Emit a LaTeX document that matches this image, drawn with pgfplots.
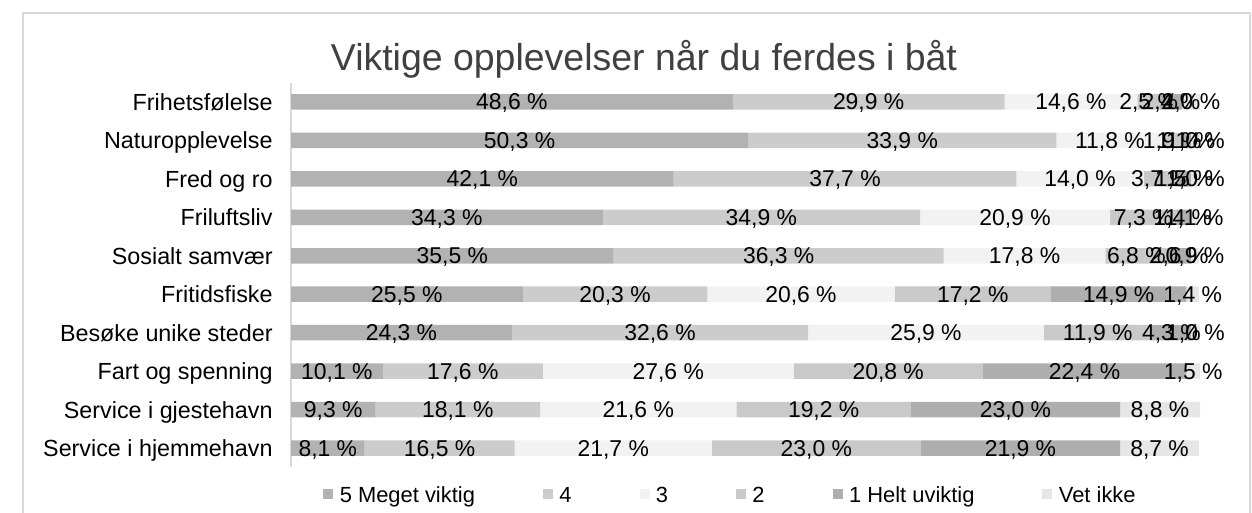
\documentclass[border=0pt]{standalone}
\usepackage{fontspec}
\setmainfont{Liberation Sans}
\usepackage{pgfplots}
\usepackage{pgfplotstable}
\pgfplotsset{compat=1.18}
\definecolor{cfem}{HTML}{B2B2B2}
\definecolor{cfire}{HTML}{CCCCCC}
\definecolor{ctre}{HTML}{F2F2F2}
\definecolor{cto}{HTML}{C9C9C9}
\definecolor{cen}{HTML}{AEAEAE}
\definecolor{cvet}{HTML}{E6E6E6}
\definecolor{cframe}{HTML}{D9D9D9}
\definecolor{ctitle}{HTML}{404040}

% rows from bottom (0) to top (9)
\pgfplotstableread{
row v5 v4 v3 v2 v1 vet
0 8.1 16.5 21.7 23.0 21.9 8.7
1 9.3 18.1 21.6 19.2 23.0 8.8
2 10.1 17.6 27.6 20.8 22.4 1.5
3 24.3 32.6 25.9 11.9 4.3 1.0
4 25.5 20.3 20.6 17.2 14.9 1.4
5 35.5 36.3 17.8 6.8 2.6 0.9
6 34.3 34.9 20.9 7.3 1.4 1.1
7 42.1 37.7 14.0 3.7 1.5 1.0
8 50.3 33.9 11.8 1.9 1.1 1.0
9 48.6 29.9 14.6 2.5 2.4 2.0
}\data

\begin{document}
\begin{tikzpicture}
\path[use as bounding box] (0bp,0bp) rectangle (626bp,256.5bp);
\draw[cframe, line width=0.75bp] (11.5bp,-5bp) rectangle (625bp,250bp);
\node[font=\fontsize{18.8}{22}\selectfont, text=ctitle, anchor=base]
  at (322bp,221bp) {Viktige opplevelser når du ferdes i båt};
\begin{axis}[
    at={(145.5bp,22.8bp)}, anchor=south west,
    scale only axis,
    width=454.5bp, height=192.4bp,
    xbar stacked,
    bar width=7.75bp,
    xmin=0, xmax=100,
    ymin=-0.5, ymax=9.5,
    axis x line=none,
    axis y line*=left,
    y axis line style={draw=cframe, line width=0.75bp},
    ytick={0,...,9},
    yticklabels={Service i hjemmehavn, Service i gjestehavn, Fart og spenning,
      Besøke unike steder, Fritidsfiske, Sosialt samvær, Friluftsliv,
      Fred og ro, Naturopplevelse, Frihetsfølelse},
    major tick length=0pt,
    ytick style={draw=none},
    yticklabel style={font=\fontsize{11.7}{13}\selectfont, anchor=east,
      text height=8.4bp, text depth=0bp, xshift=-5.7bp},
    point meta=rawx,
    nodes near coords={\pgfmathprintnumber[assume math mode=true,fixed,fixed zerofill,precision=1,use comma]{\pgfplotspointmeta}\ \%},
    every node near coord/.append style={anchor=center, yshift=-0.8bp,
      font=\fontsize{11.5}{13}\selectfont, text=black},
    legend columns=6,
    legend image code/.code={\fill[#1,draw=none] (0bp,-1.2bp) rectangle (5bp,3.8bp); \path (6.2bp,0bp);},
    legend style={at={(0.5,0)}, anchor=center, xshift=-7bp, yshift=-14.5bp,
      draw=none, fill=none, font=\fontsize{11}{13}\selectfont,
      /tikz/every even column/.append style={column sep=32bp},
      /tikz/every odd column/.append style={column sep=0bp}},
]
\addplot[fill=cfem, draw=none] table[x=v5, y=row] {\data};
\addplot[fill=cfire, draw=none] table[x=v4, y=row] {\data};
\addplot[fill=ctre, draw=none] table[x=v3, y=row] {\data};
\addplot[fill=cto, draw=none] table[x=v2, y=row] {\data};
\addplot[fill=cen, draw=none] table[x=v1, y=row] {\data};
\addplot[fill=cvet, draw=none] table[x=vet, y=row] {\data};
\legend{5 Meget viktig, 4, 3, 2, 1 Helt uviktig, Vet ikke}
\end{axis}
\end{tikzpicture}
\end{document}
